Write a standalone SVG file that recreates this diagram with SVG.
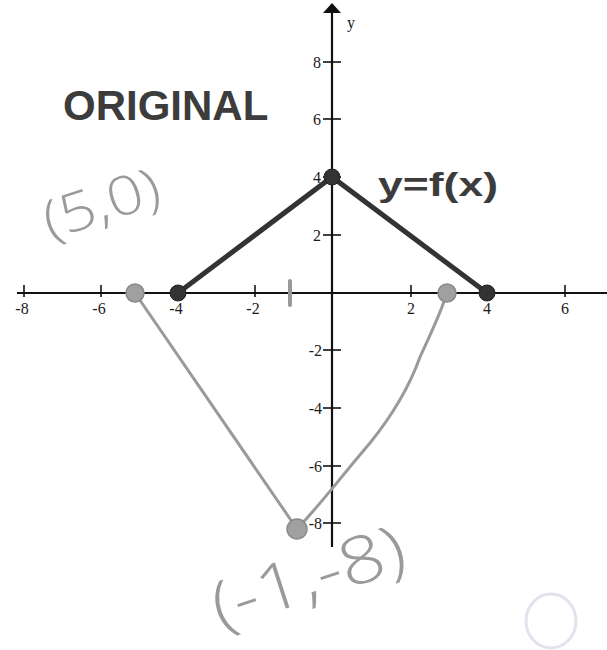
<svg xmlns="http://www.w3.org/2000/svg" width="607" height="650" viewBox="0 0 607 650">
<style>
.axis{stroke:#111;stroke-width:2.2;fill:none}
.tick{stroke:#111;stroke-width:1.6}
.lbl{font-family:"Liberation Serif","Times New Roman",serif;font-size:16px;fill:#1a1a1a}
.orig{stroke:#333;stroke-width:5;fill:none;stroke-linecap:round}
.orig-pt{fill:#333;stroke:#222;stroke-width:1}
.trans{stroke:#9a9a9a;stroke-width:3;fill:none;stroke-linecap:round}
.trans-pt{fill:#a0a0a0;stroke:#8a8a8a;stroke-width:1.5}
.hand{font-family:"Open Sans","Liberation Sans",sans-serif;font-weight:300;fill:#9a9a9a}
.title{font-family:"Liberation Sans",Arial,sans-serif;font-weight:bold;fill:#3c3c3c}
</style>
<rect width="607" height="650" fill="#fff"/>
<g id="axes">
<line class="axis" x1="17" y1="293" x2="607" y2="293"/>
<line class="axis" x1="332" y1="10" x2="332" y2="547"/>
<polygon points="332,3 323,13 341,13" fill="#111"/>
<text x="347" y="28" class="lbl" font-size="19">y</text>
<g id="xticks">
<line class="tick" x1="24" y1="285" x2="24" y2="297"/>
<line class="tick" x1="101" y1="285" x2="101" y2="297"/>
<line class="tick" x1="178" y1="285" x2="178" y2="297"/>
<line class="tick" x1="255" y1="285" x2="255" y2="297"/>
<line class="tick" x1="411" y1="285" x2="411" y2="297"/>
<line class="tick" x1="487" y1="285" x2="487" y2="297"/>
<line class="tick" x1="565" y1="285" x2="565" y2="297"/>
<text class="lbl" x="22" y="314" text-anchor="middle">-8</text>
<text class="lbl" x="99" y="314" text-anchor="middle">-6</text>
<text class="lbl" x="176" y="314" text-anchor="middle">-4</text>
<text class="lbl" x="253" y="314" text-anchor="middle">-2</text>
<text class="lbl" x="411" y="314" text-anchor="middle">2</text>
<text class="lbl" x="487" y="314" text-anchor="middle">4</text>
<text class="lbl" x="565" y="314" text-anchor="middle">6</text>
</g>
<g id="yticks">
<line class="tick" x1="323" y1="62" x2="341" y2="62"/>
<line class="tick" x1="323" y1="119" x2="341" y2="119"/>
<line class="tick" x1="323" y1="177" x2="341" y2="177"/>
<line class="tick" x1="323" y1="235" x2="341" y2="235"/>
<line class="tick" x1="323" y1="350" x2="341" y2="350"/>
<line class="tick" x1="323" y1="408" x2="341" y2="408"/>
<line class="tick" x1="323" y1="466" x2="341" y2="466"/>
<line class="tick" x1="323" y1="523" x2="341" y2="523"/>
<text class="lbl" x="321" y="68" text-anchor="end">8</text>
<text class="lbl" x="321" y="125" text-anchor="end">6</text>
<text class="lbl" x="321" y="183" text-anchor="end">4</text>
<text class="lbl" x="321" y="241" text-anchor="end">2</text>
<text class="lbl" x="322" y="356" text-anchor="end">-2</text>
<text class="lbl" x="322" y="414" text-anchor="end">-4</text>
<text class="lbl" x="322" y="472" text-anchor="end">-6</text>
<text class="lbl" x="322" y="529" text-anchor="end">-8</text>
</g>
</g>
<g id="connectors">
<polyline class="orig" points="178,293 332,177 487,293"/>
<path class="trans" d="M135,293 L297,529"/>
<path class="trans" d="M297,529 C320,505 340,478 370,443 C395,412 410,385 420,357 C430,335 440,315 447,293"/>
<path d="M290,281 L290,305" stroke="#999" stroke-width="4" stroke-linecap="round"/>
</g>
<g id="pt-orig-left"><circle class="orig-pt" cx="178" cy="293" r="8"/></g>
<g id="pt-orig-top"><circle class="orig-pt" cx="332" cy="177" r="8"/></g>
<g id="pt-orig-right"><circle class="orig-pt" cx="487" cy="293" r="8"/></g>
<g id="pt-trans-left"><circle class="trans-pt" cx="135" cy="293" r="9"/></g>
<g id="pt-trans-right"><circle class="trans-pt" cx="447" cy="293" r="9"/></g>
<g id="pt-trans-bottom"><circle class="trans-pt" cx="297" cy="529" r="10"/></g>
<g id="title"><text class="title" x="63" y="120" font-size="42">ORIGINAL</text></g>
<g id="func-label"><text class="title" x="378" y="196" font-size="33" textLength="120" lengthAdjust="spacingAndGlyphs">y=f(x)</text></g>
<g id="label-50"><text class="hand" font-size="54" textLength="120" lengthAdjust="spacingAndGlyphs" transform="translate(50,240) rotate(-18)">(5,0)</text></g>
<g id="label-m1m8"><text class="hand" font-size="66" textLength="200" lengthAdjust="spacingAndGlyphs" transform="translate(220,630) rotate(-18)">(-1,-8)</text></g>
<g id="faint-mark"><ellipse cx="551" cy="621" rx="25" ry="27" fill="none" stroke="#e2e2ee" stroke-width="3"/></g>
</svg>
